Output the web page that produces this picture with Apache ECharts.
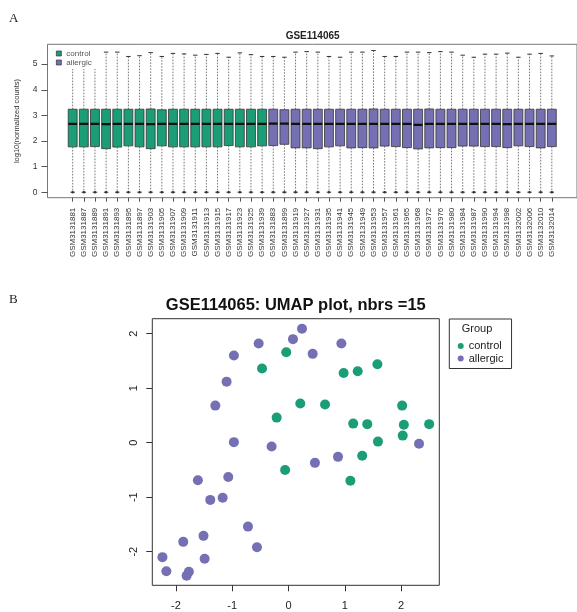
<!DOCTYPE html>
<html><head><meta charset="utf-8">
<script src="https://cdn.jsdelivr.net/npm/echarts@6/dist/echarts.min.js"></script>
<style>html,body{margin:0;padding:0;background:#fff}#c{width:577px;height:612px}</style>
</head><body><div id="c"></div>
<script>
// ---------- Panel A data ----------
const samples = ['GSM3131881','GSM3131887','GSM3131889','GSM3131891','GSM3131893','GSM3131895','GSM3131897','GSM3131903','GSM3131905','GSM3131907','GSM3131909','GSM3131911','GSM3131913','GSM3131915','GSM3131917','GSM3131923','GSM3131925','GSM3131939',
 'GSM3131883','GSM3131899','GSM3131919','GSM3131927','GSM3131931','GSM3131935','GSM3131941','GSM3131945','GSM3131949','GSM3131953','GSM3131957','GSM3131961','GSM3131965','GSM3131968','GSM3131972','GSM3131976','GSM3131980','GSM3131984','GSM3131987','GSM3131990','GSM3131994','GSM3131998','GSM3132002','GSM3132006','GSM3132010','GSM3132014'];
const groups = ['control','control','control','control','control','control','control','control','control','control','control','control','control','control','control','control','control','control',
 'allergic','allergic','allergic','allergic','allergic','allergic','allergic','allergic','allergic','allergic','allergic','allergic','allergic','allergic','allergic','allergic','allergic','allergic','allergic','allergic','allergic','allergic','allergic','allergic','allergic','allergic'];
const whiskerLow = [0,0,0,0,0,0,0,0,0,0,0,0,0,0,0,0,0,0,0,0,0,0,0,0,0,0,0,0,0,0,0,0,0,0,0,0,0,0,0,0,0,0,0,0];
const q1 = [1.77,1.77,1.78,1.70,1.76,1.81,1.77,1.70,1.81,1.77,1.77,1.77,1.77,1.77,1.82,1.77,1.77,1.81,
 1.82,1.87,1.73,1.73,1.70,1.77,1.81,1.73,1.74,1.73,1.80,1.78,1.74,1.69,1.73,1.74,1.74,1.80,1.80,1.78,1.78,1.74,1.81,1.78,1.73,1.78];
const med = [2.67,2.67,2.67,2.66,2.67,2.67,2.67,2.66,2.67,2.67,2.67,2.67,2.67,2.67,2.67,2.67,2.67,2.67,
 2.68,2.68,2.67,2.67,2.67,2.67,2.67,2.67,2.67,2.67,2.67,2.67,2.67,2.63,2.67,2.67,2.67,2.67,2.67,2.67,2.67,2.66,2.67,2.67,2.67,2.67];
const q3 = [3.24,3.24,3.24,3.24,3.24,3.24,3.24,3.25,3.22,3.24,3.24,3.24,3.24,3.24,3.24,3.24,3.24,3.24,
 3.24,3.22,3.24,3.24,3.24,3.24,3.24,3.24,3.24,3.25,3.24,3.24,3.24,3.24,3.25,3.24,3.24,3.24,3.24,3.24,3.24,3.24,3.24,3.24,3.24,3.24];
const whiskerHigh = [5.35,5.40,5.30,5.47,5.47,5.30,5.33,5.45,5.30,5.42,5.40,5.35,5.38,5.42,5.27,5.44,5.37,5.30,
 5.30,5.27,5.47,5.49,5.47,5.30,5.27,5.47,5.47,5.53,5.30,5.30,5.47,5.47,5.45,5.49,5.47,5.35,5.27,5.39,5.39,5.43,5.27,5.39,5.42,5.32];
const yTicksA = [0,1,2,3,4,5];

// ---------- Panel B data (UMAP) ----------
const controlX = [-0.04,-0.47,0.98,1.23,1.58,0.21,0.65,-0.21,1.15,1.40,2.02,2.05,2.50,2.03,1.59,1.31,-0.06,1.10];
const controlY = [1.66,1.36,1.28,1.31,1.44,0.72,0.70,0.46,0.35,0.34,0.68,0.33,0.34,0.13,0.02,-0.24,-0.50,-0.70];
const allergicX = [0.24,0.08,-0.53,0.94,-0.97,0.43,-1.10,-1.30,-0.97,-0.30,0.47,0.88,2.32,-1.61,-1.07,-1.39,-1.17,-0.72,-0.56,-1.51,-1.87,-1.49,-2.24,-2.17,-1.77,-1.81];
const allergicY = [2.09,1.90,1.82,1.82,1.60,1.63,1.12,0.68,0.01,-0.07,-0.37,-0.26,-0.02,-0.69,-0.63,-1.05,-1.01,-1.54,-1.92,-1.71,-1.82,-2.13,-2.10,-2.36,-2.37,-2.44];
const xTicksB = [-2,-1,0,1,2];
const yTicksB = [-2,-1,0,1,2];

const GREEN = '#1b9e77', PURPLE = '#7570b3';
const FONT = '"Liberation Sans", Arial, sans-serif';

function boxData(g) {
  const out = [];
  samples.forEach((s, i) => {
    if (groups[i] === g) out.push([i + 1, whiskerLow[i], q1[i], med[i], q3[i], whiskerHigh[i]]);
  });
  return out;
}
function zip(xs, ys) { return xs.map((x, i) => [x, ys[i]]); }

function renderBox(params, api) {
  const x = api.value(0);
  const lo = api.coord([x, api.value(1)]);
  const b = api.coord([x, api.value(2)]);
  const m = api.coord([x, api.value(3)]);
  const t = api.coord([x, api.value(4)]);
  const hi = api.coord([x, api.value(5)]);
  const bw = api.size([0.8, 0])[0];
  const cx = lo[0];
  const color = api.visual('color');
  const dash = { stroke: '#555', lineWidth: 0.8, lineDash: [1.6, 1.4] };
  const solid = { stroke: '#333', lineWidth: 1 };
  return {
    type: 'group',
    children: [
      { type: 'line', shape: { x1: cx, y1: t[1], x2: cx, y2: hi[1] }, style: dash },
      { type: 'line', shape: { x1: cx, y1: b[1], x2: cx, y2: lo[1] }, style: dash },
      { type: 'line', shape: { x1: cx - bw / 4, y1: hi[1], x2: cx + bw / 4, y2: hi[1] }, style: solid },
      { type: 'line', shape: { x1: cx - bw / 4, y1: lo[1], x2: cx + bw / 4, y2: lo[1] }, style: solid },
      { type: 'circle', shape: { cx: cx, cy: lo[1], r: 1.2 }, style: { fill: '#333' } },
      { type: 'rect', shape: { x: cx - bw / 2, y: t[1], width: bw, height: b[1] - t[1] }, style: { fill: color, stroke: '#333', lineWidth: 0.8 } },
      { type: 'line', shape: { x1: cx - bw / 2, y1: m[1], x2: cx + bw / 2, y2: m[1] }, style: { stroke: '#111', lineWidth: 2.2 } }
    ]
  };
}

const chart = echarts.init(document.getElementById('c'), null, { renderer: 'canvas' });
chart.setOption({
  animation: false,
  backgroundColor: '#fff',
  textStyle: { fontFamily: FONT },
  grid: [
    { left: 47.5, top: 44.3, width: 530.3, height: 153.4, show: true, borderColor: '#777', borderWidth: 1, containLabel: false },
    { left: 152.3, top: 318.7, width: 287, height: 266.6, show: true, borderColor: '#333', borderWidth: 1, containLabel: false }
  ],
  xAxis: [
    { type: 'value', gridIndex: 0, min: -1.26, max: 46.26, position: 'bottom',
      axisLine: { show: false, onZero: false }, splitLine: { show: false },
      axisTick: { show: true, customValues: samples.map((s, i) => i + 1), length: 4, lineStyle: { color: '#555' } },
      axisLabel: { show: true, customValues: samples.map((s, i) => i + 1), rotate: 90, margin: 10, fontSize: 8, color: '#333', fontFamily: FONT,
        formatter: v => samples[Math.round(v) - 1] || '' } },
    { type: 'value', gridIndex: 1, min: -2.42, max: 2.68, position: 'bottom',
      axisLine: { show: false, onZero: false }, splitLine: { show: false },
      axisTick: { show: true, customValues: xTicksB, length: 6, lineStyle: { color: '#333' } },
      axisLabel: { show: true, customValues: xTicksB, margin: 15, fontSize: 11, color: '#222', fontFamily: FONT } }
  ],
  yAxis: [
    { type: 'value', gridIndex: 0, min: -0.215, max: 5.775, position: 'left',
      axisLine: { show: false, onZero: false }, splitLine: { show: false },
      axisTick: { show: true, customValues: yTicksA, length: 6, lineStyle: { color: '#555' } },
      axisLabel: { show: true, customValues: yTicksA, margin: 10, fontSize: 8.5, color: '#333', fontFamily: FONT },
      name: 'log10(normalized counts)', nameLocation: 'middle', nameRotate: 90, nameGap: 27,
      nameTextStyle: { fontSize: 7.5, color: '#333', fontFamily: FONT } },
    { type: 'value', gridIndex: 1, min: -2.617, max: 2.275, position: 'left',
      axisLine: { show: false, onZero: false }, splitLine: { show: false },
      axisTick: { show: true, customValues: yTicksB, length: 6, lineStyle: { color: '#333' } },
      axisLabel: { show: true, customValues: yTicksB, rotate: 90, margin: 13, fontSize: 11, color: '#222', fontFamily: FONT } }
  ],
  legend: [
    { orient: 'vertical', left: 48, top: 46, padding: [3, 6, 2, 8], itemGap: 0, itemWidth: 5, itemHeight: 5,
      backgroundColor: '#fff', selectedMode: false,
      itemStyle: { borderColor: '#333', borderWidth: 0.7 },
      textStyle: { fontSize: 8, color: '#555', lineHeight: 9, fontFamily: FONT },
      data: [{ name: 'control', icon: 'rect' }, { name: 'allergic', icon: 'rect' }] },
    { orient: 'vertical', left: 449.3, top: 319, padding: [21, 8, 4, 8.4], itemGap: 0.5, itemWidth: 6, itemHeight: 6,
      borderColor: '#333', borderWidth: 1, backgroundColor: '#fff', selectedMode: false,
      textStyle: { fontSize: 11, color: '#222', lineHeight: 12, fontFamily: FONT },
      data: [{ name: 'control', icon: 'circle' }, { name: 'allergic', icon: 'circle' }] }
  ],
  graphic: [
    { type: 'text', left: 9, top: 12, style: { text: 'A', font: '13px "Liberation Serif", serif', fill: '#222' } },
    { type: 'text', left: 9, top: 293, style: { text: 'B', font: '13px "Liberation Serif", serif', fill: '#222' } },
    { type: 'text', x: 312.6, y: 36, style: { text: 'GSE114065', font: 'bold 10px "Liberation Sans", Arial', fill: '#222', align: 'center', verticalAlign: 'middle' } },
    { type: 'text', x: 295.8, y: 305.7, style: { text: 'GSE114065: UMAP plot, nbrs =15', font: 'bold 16.5px "Liberation Sans", Arial', fill: '#111', align: 'center', verticalAlign: 'middle' } },
    { type: 'text', x: 477, y: 328.5, z: 100, style: { text: 'Group', font: '11px "Liberation Sans", Arial', fill: '#222', align: 'center', verticalAlign: 'middle' } }
  ],
  series: [
    { name: 'control', type: 'custom', xAxisIndex: 0, yAxisIndex: 0, renderItem: renderBox,
      itemStyle: { color: GREEN }, encode: { x: 0, y: [1, 2, 3, 4, 5] }, data: boxData('control'), clip: true },
    { name: 'allergic', type: 'custom', xAxisIndex: 0, yAxisIndex: 0, renderItem: renderBox,
      itemStyle: { color: PURPLE }, encode: { x: 0, y: [1, 2, 3, 4, 5] }, data: boxData('allergic'), clip: true },
    { name: 'control', type: 'scatter', xAxisIndex: 1, yAxisIndex: 1, symbolSize: 10,
      itemStyle: { color: GREEN, opacity: 1 }, data: zip(controlX, controlY) },
    { name: 'allergic', type: 'scatter', xAxisIndex: 1, yAxisIndex: 1, symbolSize: 10,
      itemStyle: { color: PURPLE, opacity: 1 }, data: zip(allergicX, allergicY) }
  ]
});
</script>
</body></html>
